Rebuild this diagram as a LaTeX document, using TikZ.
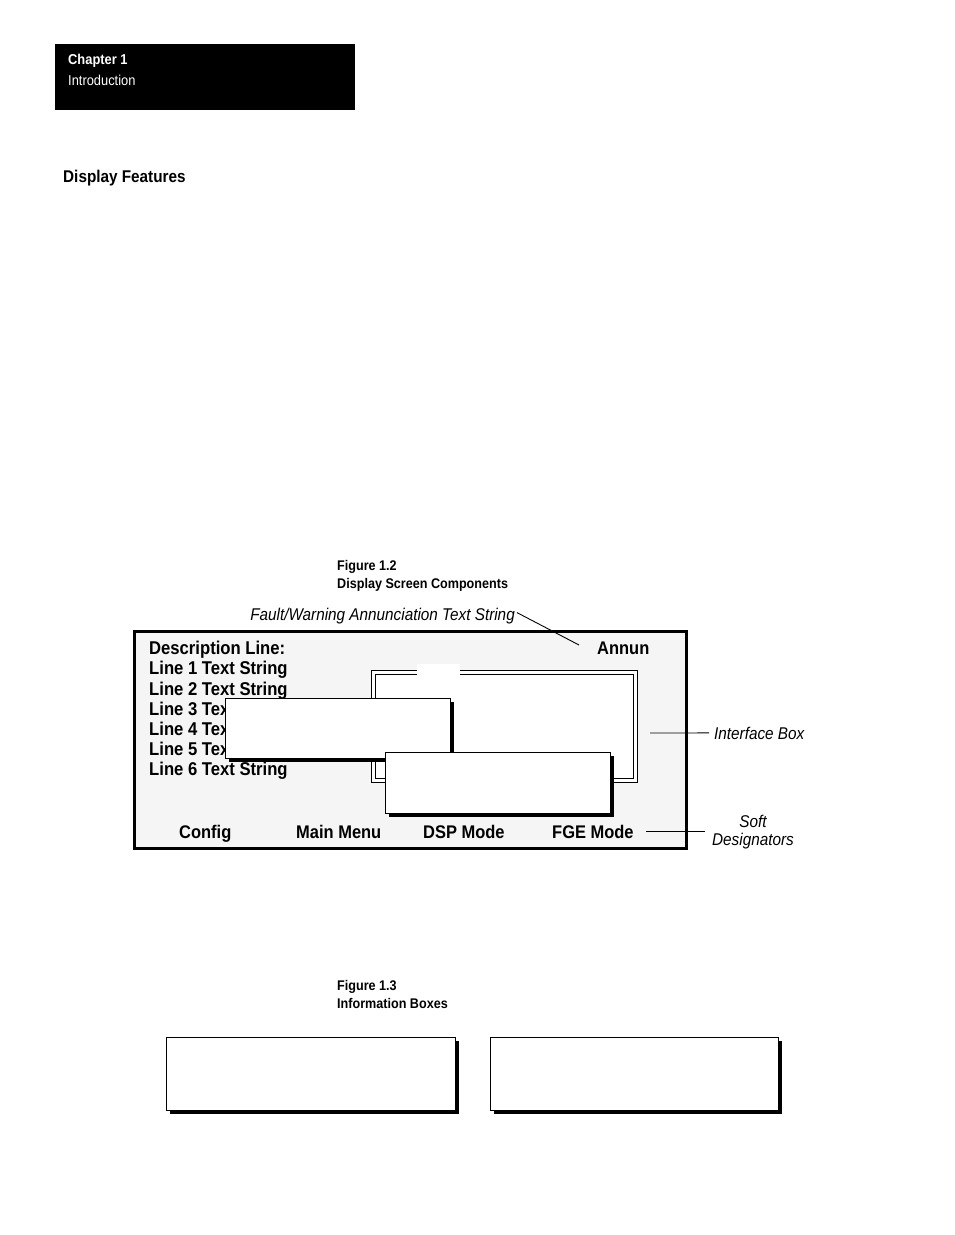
\documentclass[tikz,border=0pt]{standalone}
\usepackage{fontspec}
\setmainfont[FakeStretch=0.9]{Liberation Sans}
\usetikzlibrary{positioning,shadows}
\definecolor{screengray}{HTML}{F5F5F5}
\tikzset{heading/.style={font=\fontsize{17}{19}\selectfont\bfseries,anchor=base west,inner sep=0pt},
  caption/.style={font=\fontsize{14}{18}\selectfont\bfseries,anchor=north west,align=left,inner sep=0pt},
  softkey/.style={font=\fontsize{18.3}{20}\selectfont\bfseries,anchor=base west,inner sep=0pt},
  callout/.style={font=\fontsize{17}{18}\selectfont\itshape,inner sep=0pt},
  leader/.style={line width=0.9pt},
  infobox/.style={draw,fill=white,line width=1pt,anchor=north west,inner sep=0pt,
    drop shadow={shadow xshift=3pt,shadow yshift=-3pt,fill=black,opacity=1}}}

\begin{document}
\begin{tikzpicture}[x=1pt,y=-1pt]
\useasboundingbox (0,0) rectangle (954,1235);
% page header
\node[fill=black,anchor=north west,minimum width=300pt,minimum height=66pt,inner sep=0pt] (tab) at (55,44) {};
\node[font=\fontsize{14.3}{16}\selectfont\bfseries,text=white,anchor=base west,inner sep=0pt] (chap) at (68,64) {Chapter 1};
\node[font=\fontsize{14.3}{16}\selectfont,text=white,anchor=base west,inner sep=0pt] (intro) at (68,85) {Introduction};
\node[heading] (feat) at (63,182) {Display Features};
% figure 1.2
\node[caption] (fig12) at (337,560) {Figure 1.2\\Display Screen Components};
\node[draw,line width=2.6pt,fill=screengray,anchor=north west,minimum width=552pt,minimum height=217pt,inner sep=0pt] (screen) at (133.3,630.3) {};
\node[font=\fontsize{18.5}{20.2}\selectfont\bfseries,anchor=north west,align=left,inner sep=0pt] (lines) at (149,641) {Description Line:\\Line 1 Text String\\Line 2 Text String\\Line 3 Text String\\Line 4 Text String\\Line 5 Text String\\Line 6 Text String};
\node[softkey] (annun) at (597,654) {Annun};
\node[draw,double=white,double distance=2.6pt,line width=1.2pt,fill=white,anchor=north west,minimum width=262pt,minimum height=108pt,inner sep=0pt] (iface) at (373,672) {};
\node[fill=white,anchor=north west,minimum width=43pt,minimum height=12pt,inner sep=0pt] (gap) at (417,664) {};
\node[infobox,minimum width=225pt,minimum height=60pt] (boxa) at (225,698) {};
\node[infobox,minimum width=225pt,minimum height=61pt] (boxb) at (385,752) {};
\node[softkey] (config) at (179,838) {Config};
\node[softkey] (mainmenu) at (296,838) {Main Menu};
\node[softkey] (dsp) at (423,838) {DSP Mode};
\node[softkey] (fge) at (552,838) {FGE Mode};
% callouts
\node[callout,anchor=base east] (fault) at (515,620) {Fault/Warning Annunciation Text String};
\coordinate (faultend) at (579,645);
\draw[leader] (fault.east) ++(2,-3) coordinate (faultstart) -- (faultend);
\node[callout,anchor=base west] (ifacelbl) at (714,739) {Interface Box};
\coordinate (ifaceend) at (650,733);
\draw[leader] (ifaceend) -- (ifacelbl.west -| 709,0) ;
\node[callout,align=center,anchor=north] (soft) at (753,815) {Soft\\Designators};
\coordinate (softend) at (646,831);
\draw[leader] (softend) -- (705,831);
% figure 1.3
\node[caption] (fig13) at (337,980) {Figure 1.3\\Information Boxes};
\node[infobox,minimum width=289pt,minimum height=73pt] (info1) at (166,1037) {};
\node[infobox,minimum width=288pt,minimum height=73pt] (info2) at (490,1037) {};
\end{tikzpicture}
\end{document}
